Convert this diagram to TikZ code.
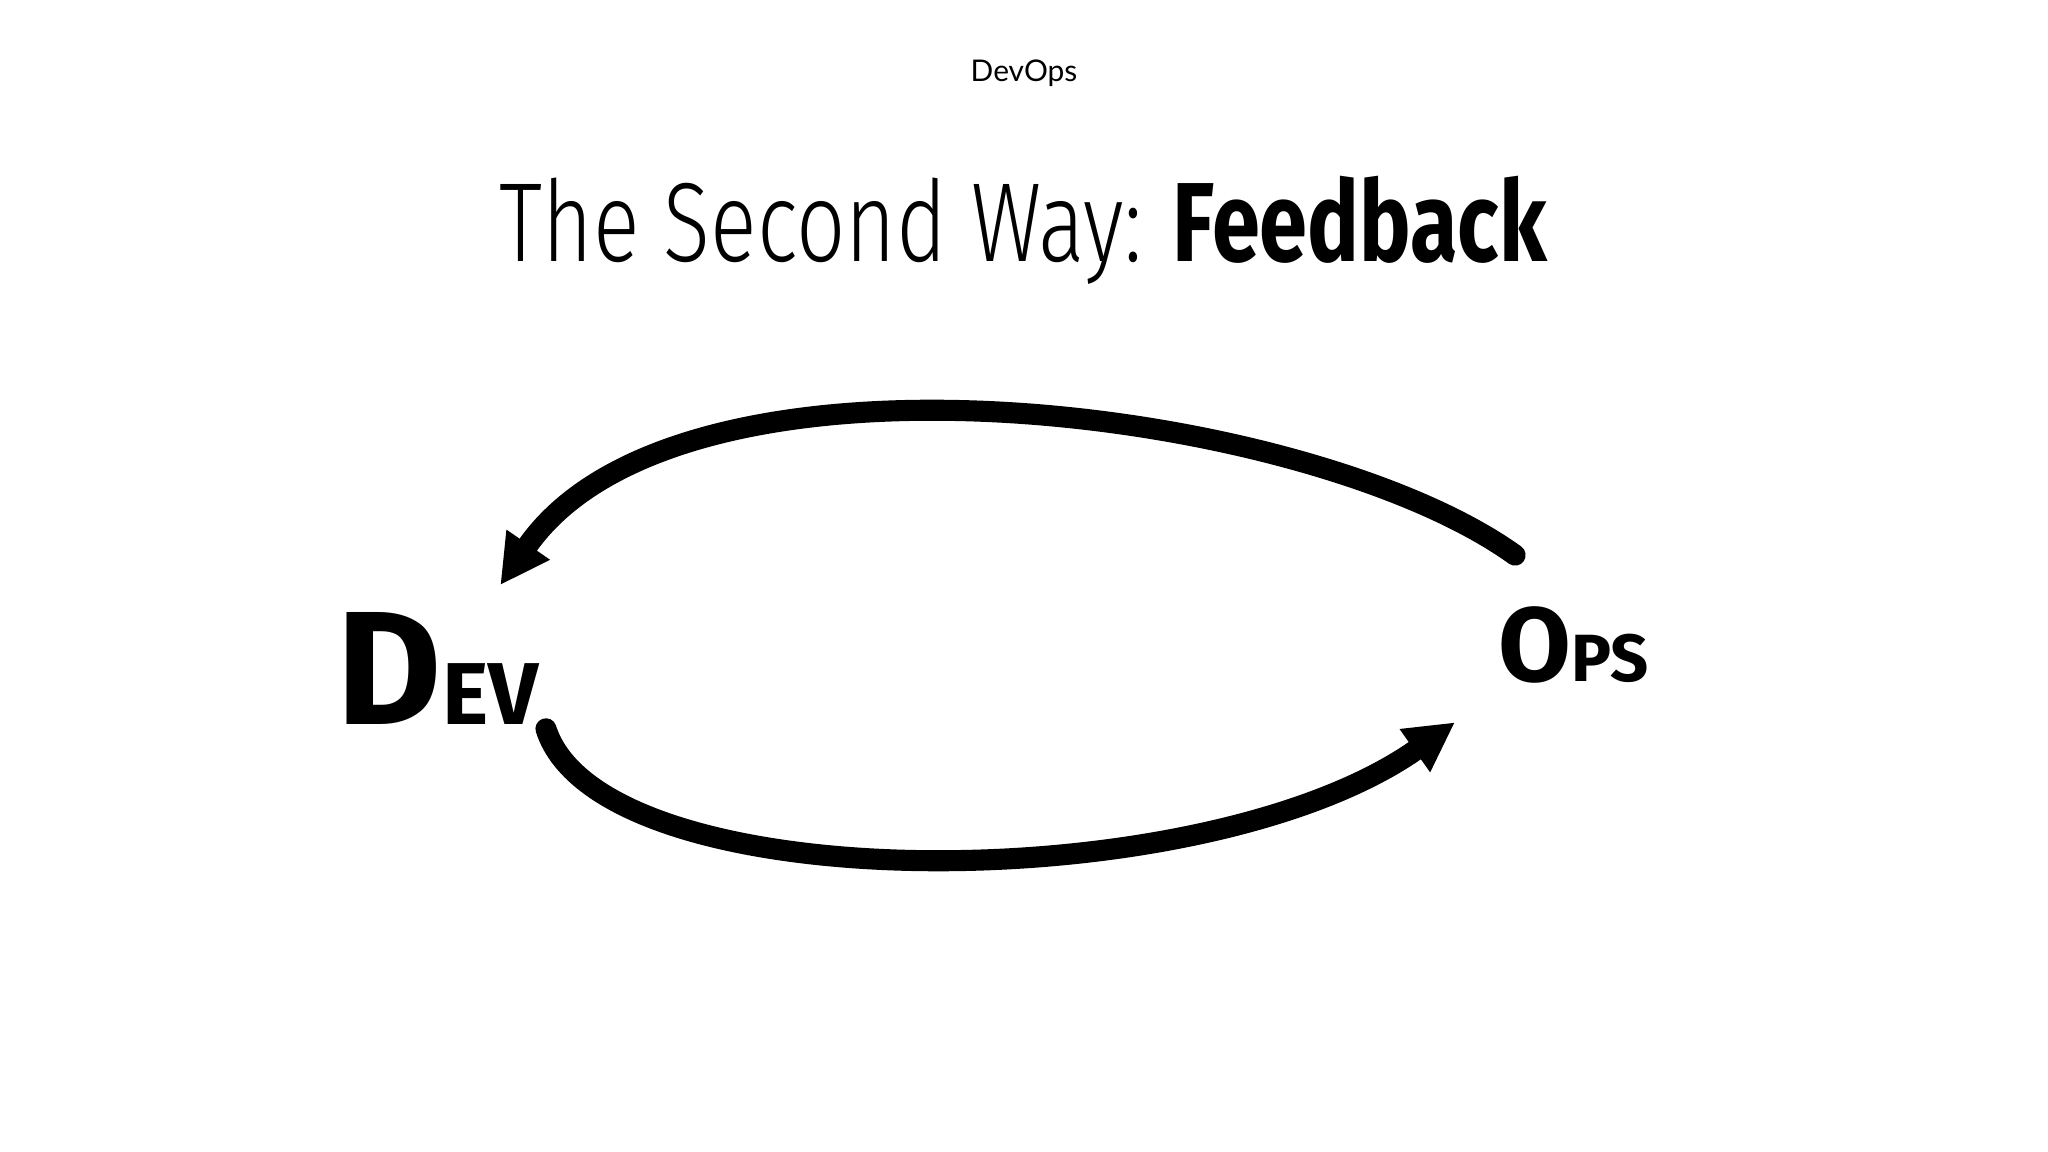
\documentclass[tikz,border=0pt]{standalone}
\usepackage{fontspec}
\setmainfont{Fira Sans}
\newfontfamily\lato{Lato}
\newfontfamily\thin{Fira Sans Light}
\usetikzlibrary{arrows.meta}
\begin{document}
\begin{tikzpicture}[x=0.013061cm,y=-0.013061cm,
  loop/.style={line width=6pt,line cap=round,-{Triangle[length=14pt,width=14pt]}},
  hand/.style={font=\bfseries,inner sep=0pt}]
\useasboundingbox (0,0) rectangle (1568,882);
\node (hdr) at (784,56) {\lato\fontsize{8.5}{10}\selectfont DevOps};
\node[transform shape,xscale=0.77,yscale=1] (title) at (784,176)
  {\fontsize{32}{38}\selectfont{\thin The Second Way:} \textbf{Feedback}};
\node[hand] (dev) at (335,512) {\fontsize{46}{46}\selectfont D\fontsize{25}{25}\selectfont EV};
\node[hand] (ops) at (1205,494) {\fontsize{30}{30}\selectfont O\fontsize{19}{19}\selectfont PS};
\coordinate (t0) at (1160,425);
\coordinate (t1) at (383,448);
\coordinate (b0) at (418,558);
\coordinate (b1) at (1114,553);
\draw[loop] (t0) .. controls (1000,310) and (520,250) .. (t1);
\draw[loop] (b0) .. controls (460,690) and (920,690) .. (b1);
\end{tikzpicture}
\end{document}
